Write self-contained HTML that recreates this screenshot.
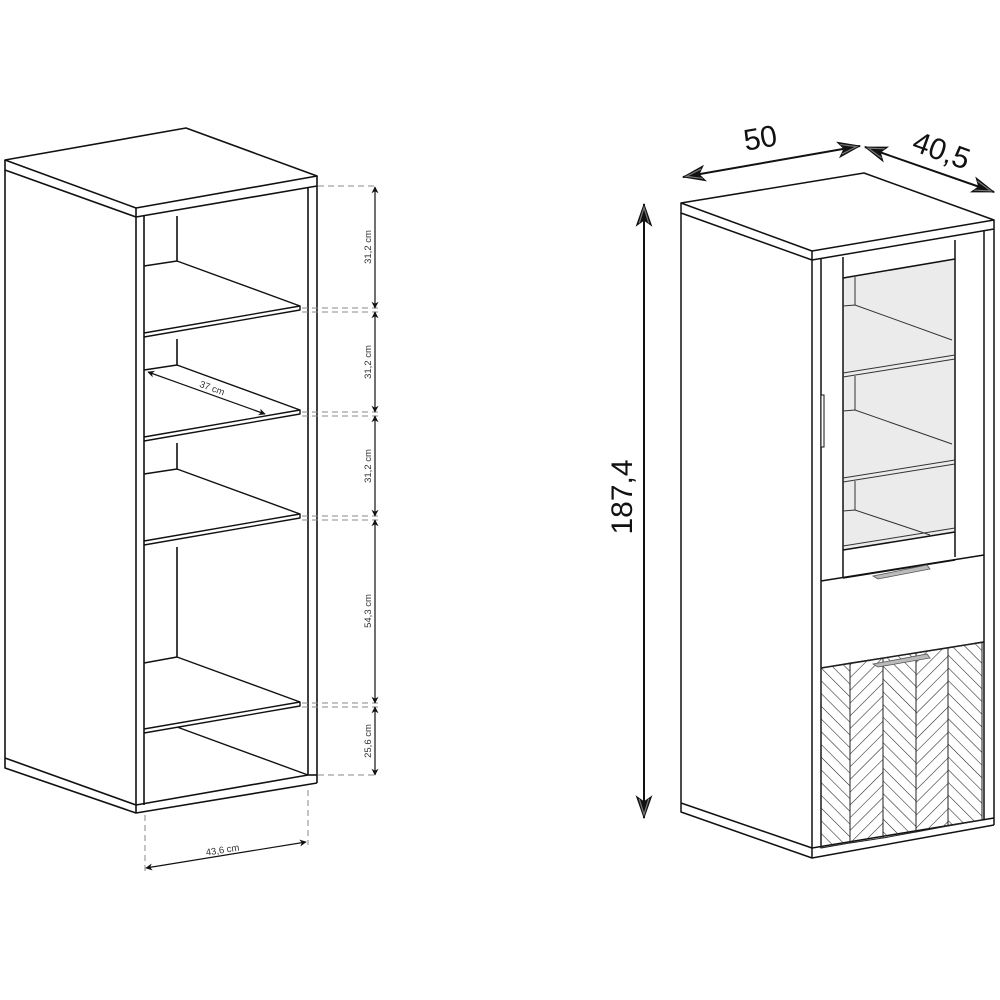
<!DOCTYPE html>
<html><head><meta charset="utf-8"><style>html,body{margin:0;padding:0;background:#fff}svg{display:block}</style></head>
<body>
<svg width="1000" height="1000" viewBox="0 0 1000 1000" xmlns="http://www.w3.org/2000/svg" font-family="Liberation Sans, sans-serif">
<defs>
<marker id="a" viewBox="0 0 10 10" refX="9" refY="5" markerWidth="7" markerHeight="7" orient="auto-start-reverse" markerUnits="userSpaceOnUse"><path d="M0,0 L10,5 L0,10 L3,5 Z" fill="#111"/></marker>
<marker id="b" viewBox="0 0 20 14" refX="19" refY="7" markerWidth="24" markerHeight="17" orient="auto-start-reverse" markerUnits="userSpaceOnUse"><path d="M0,0 L20,7 L0,14 L5,7 Z" fill="#111"/><path d="M3,3 L16,7 L3,11" fill="none" stroke="#777" stroke-width="1"/></marker>
<pattern id="p1" width="9" height="9" patternUnits="userSpaceOnUse" patternTransform="rotate(45)"><line x1="0" y1="0" x2="0" y2="9" stroke="#222" stroke-width="1.1"/></pattern>
<pattern id="p2" width="9" height="9" patternUnits="userSpaceOnUse" patternTransform="rotate(-45)"><line x1="0" y1="0" x2="0" y2="9" stroke="#222" stroke-width="1.1"/></pattern>
</defs>
<g fill="none" stroke="#111" stroke-width="1.6" stroke-linejoin="round">
<polygon points="5,160 186,128 317,176 136,208" fill="#fff"/>
<polyline points="5,160 5,170 136,217 317,186 317,176"/>
<line x1="136" y1="208" x2="136" y2="217"/>
<line x1="5" y1="170" x2="5" y2="758"/>
<line x1="136" y1="217" x2="136" y2="813"/>
<line x1="144" y1="216" x2="144" y2="805"/>
<line x1="308" y1="187" x2="308" y2="775"/>
<line x1="317" y1="186" x2="317" y2="783"/>
<polyline points="5,758 5,768 136,813 317,783"/>
<line x1="5" y1="758" x2="136" y2="805"/>
<line x1="136" y1="805" x2="308" y2="775"/>
<line x1="308" y1="775" x2="317" y2="775"/>
<line x1="177" y1="216" x2="177" y2="261"/>
<line x1="177" y1="339" x2="177" y2="365"/>
<line x1="177" y1="443" x2="177" y2="469"/>
<line x1="177" y1="547" x2="177" y2="657"/>
<g stroke-width="1.4">
<polyline points="144,266 177,261 300,306 300,310 144,337"/><line x1="144" y1="333" x2="300" y2="306"/>
<polyline points="144,370 177,365 300,410 300,414 144,441"/><line x1="144" y1="437" x2="300" y2="410"/>
<polyline points="144,474 177,469 300,514 300,518 144,545"/><line x1="144" y1="541" x2="300" y2="514"/>
<polyline points="144,663 177,657 300,702 300,706 144,733"/><line x1="144" y1="729" x2="300" y2="702"/>
<line x1="177" y1="727" x2="308" y2="775"/>
</g>
</g>
<g stroke="#888" stroke-width="1" stroke-dasharray="6,4" fill="none">
<line x1="318" y1="186" x2="378" y2="186"/>
<line x1="302" y1="308" x2="378" y2="308"/><line x1="302" y1="312" x2="378" y2="312"/>
<line x1="302" y1="412" x2="378" y2="412"/><line x1="302" y1="416" x2="378" y2="416"/>
<line x1="302" y1="516" x2="378" y2="516"/><line x1="302" y1="520" x2="378" y2="520"/>
<line x1="302" y1="703" x2="378" y2="703"/><line x1="302" y1="707" x2="378" y2="707"/>
<line x1="318" y1="775" x2="378" y2="775"/>
<line x1="145" y1="815" x2="145" y2="875"/>
<line x1="308" y1="790" x2="308" y2="845"/>
</g>
<g stroke="#111" stroke-width="1.2" marker-start="url(#a)" marker-end="url(#a)">
<line x1="375" y1="187" x2="375" y2="308"/>
<line x1="375" y1="312" x2="375" y2="412"/>
<line x1="375" y1="416" x2="375" y2="516"/>
<line x1="375" y1="520" x2="375" y2="703"/>
<line x1="375" y1="707" x2="375" y2="775"/>
<line x1="148" y1="372" x2="265" y2="414"/>
<line x1="146" y1="868" x2="306" y2="842"/>
</g>
<g font-size="9.5" fill="#333" text-anchor="middle">
<text transform="translate(371,247) rotate(-90)">31,2 cm</text>
<text transform="translate(371,362) rotate(-90)">31,2 cm</text>
<text transform="translate(371,466) rotate(-90)">31,2 cm</text>
<text transform="translate(371,611) rotate(-90)">54,3 cm</text>
<text transform="translate(371,741) rotate(-90)">25,6 cm</text>
<text transform="translate(211,391) rotate(20)">37 cm</text>
<text transform="translate(223,853) rotate(-9)">43,6 cm</text>
</g>
<polygon points="843,278 955,259 955,532 843,550" fill="#ebebeb"/>
<g fill="none" stroke="#111" stroke-width="1.5" stroke-linejoin="round">
<polygon points="681,203 864,173 994,220 812,251" fill="#fff"/>
<polyline points="681,203 681,213 812,260 994,229 994,220"/>
<line x1="812" y1="251" x2="812" y2="260"/>
<line x1="681" y1="213" x2="681" y2="803"/>
<line x1="812" y1="260" x2="812" y2="858"/>
<line x1="821" y1="259" x2="821" y2="848"/>
<line x1="984" y1="231" x2="984" y2="820"/>
<line x1="994" y1="229" x2="994" y2="825"/>
<polyline points="681,803 681,812 812,858 994,825"/>
<line x1="681" y1="803" x2="812" y2="848"/>
<line x1="812" y1="848" x2="994" y2="818"/>
<line x1="955" y1="240" x2="955" y2="557"/>
<line x1="843" y1="257" x2="843" y2="578"/>
<polyline points="843,278 955,259"/>
<line x1="843" y1="550" x2="955" y2="532"/>
<line x1="821" y1="581" x2="984" y2="555"/>
<line x1="843" y1="578" x2="955" y2="560"/>
<line x1="821" y1="668" x2="984" y2="642"/>
</g>
<g fill="none" stroke="#333" stroke-width="1">
<line x1="855" y1="277" x2="855" y2="305"/>
<polyline points="843,306 855,305 952,340"/><line x1="843" y1="373" x2="955" y2="355"/><line x1="843" y1="377" x2="955" y2="359"/>
<line x1="855" y1="376" x2="855" y2="410"/>
<polyline points="843,411 855,410 952,444"/><line x1="843" y1="478" x2="955" y2="460"/><line x1="843" y1="482" x2="955" y2="464"/>
<line x1="855" y1="481" x2="855" y2="510"/>
<polyline points="843,511 855,510 930,535"/><line x1="843" y1="546" x2="955" y2="528"/>
</g>
<rect x="821" y="395" width="3" height="52" fill="#fff" stroke="#111" stroke-width="1"/>
<polygon points="873,576 927,565 930,569 878,579" fill="#bbb" stroke="#555" stroke-width="0.8"/>
<g stroke="#222" stroke-width="1">
<polygon points="821,668 850,663 850,843 821,848" fill="url(#p2)"/>
<polygon points="850,663 883,658 883,838 850,843" fill="url(#p1)"/>
<polygon points="883,658 916,653 916,832 883,838" fill="url(#p2)"/>
<polygon points="916,653 948,648 948,826 916,832" fill="url(#p1)"/>
<polygon points="948,648 982,642 982,820 948,826" fill="url(#p2)"/>
</g>
<polygon points="873,664 927,654 930,658 878,667" fill="#bbb" stroke="#555" stroke-width="0.8"/>
<g stroke="#111" stroke-width="2" marker-start="url(#b)" marker-end="url(#b)">
<line x1="683" y1="177" x2="860" y2="146"/>
<line x1="865" y1="147" x2="994" y2="192"/>
<line x1="644" y1="204" x2="644" y2="818"/>
</g>
<g font-size="30" fill="#111" text-anchor="middle">
<text transform="translate(762,148) rotate(-10)">50</text>
<text transform="translate(938,160) rotate(20)">40,5</text>
<text transform="translate(632,497) rotate(-90)">187,4</text>
</g>
</svg>
</body></html>
